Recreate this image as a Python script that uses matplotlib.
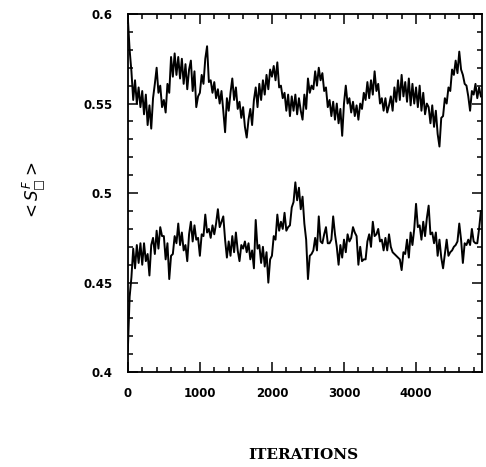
import numpy as np
import matplotlib
matplotlib.use("Agg")
import matplotlib.pyplot as plt
from matplotlib.ticker import MultipleLocator

# iterations sampled every 25 steps
step = 25

# upper trace
upper = [
    0.598, 0.580, 0.568, 0.552, 0.563, 0.550, 0.559, 0.548, 0.557, 0.544,
    0.555, 0.538, 0.549, 0.536, 0.553, 0.561, 0.570, 0.556, 0.560, 0.548,
    0.552, 0.545, 0.561, 0.556, 0.576, 0.565, 0.578, 0.566, 0.576, 0.564,
    0.575, 0.561, 0.572, 0.558, 0.569, 0.574, 0.557, 0.568, 0.548, 0.554,
    0.556, 0.566, 0.561, 0.575, 0.582, 0.562, 0.563, 0.556, 0.562, 0.553,
    0.558, 0.550, 0.557, 0.546, 0.534, 0.553, 0.546, 0.556, 0.564, 0.552,
    0.559, 0.547, 0.551, 0.542, 0.548, 0.537, 0.531, 0.541, 0.547, 0.538,
    0.552, 0.559, 0.548, 0.561, 0.552, 0.563, 0.555, 0.566, 0.558, 0.569,
    0.565, 0.571, 0.563, 0.573, 0.559, 0.560, 0.553, 0.556, 0.546, 0.555,
    0.543, 0.554, 0.546, 0.555, 0.544, 0.553, 0.546, 0.541, 0.555, 0.547,
    0.564, 0.556, 0.560, 0.558, 0.568, 0.560, 0.570, 0.563, 0.567, 0.557,
    0.559, 0.548, 0.552, 0.543, 0.551, 0.541, 0.550, 0.539, 0.547, 0.532,
    0.550, 0.560, 0.550, 0.553, 0.545, 0.551, 0.543, 0.549, 0.541, 0.550,
    0.547, 0.556, 0.552, 0.562, 0.553, 0.563, 0.555, 0.568, 0.557, 0.561,
    0.550, 0.553, 0.546, 0.553, 0.545, 0.549, 0.554, 0.546, 0.559, 0.551,
    0.563, 0.552, 0.566, 0.554, 0.562, 0.551, 0.564, 0.549, 0.561, 0.550,
    0.559, 0.548, 0.560, 0.546, 0.556, 0.544, 0.550, 0.548, 0.539, 0.549,
    0.537, 0.546, 0.533, 0.526, 0.542, 0.543, 0.553, 0.550, 0.559, 0.557,
    0.569, 0.566, 0.574, 0.567, 0.579, 0.569, 0.566, 0.561, 0.560, 0.554,
    0.546, 0.557, 0.555, 0.561, 0.553, 0.559, 0.554,
]

# lower trace
lower = [
    0.412, 0.442, 0.453, 0.469, 0.458, 0.471, 0.461, 0.472, 0.460, 0.472,
    0.462, 0.466, 0.454, 0.471, 0.475, 0.466, 0.479, 0.469, 0.481, 0.476,
    0.476, 0.463, 0.472, 0.452, 0.465, 0.466, 0.476, 0.472, 0.483, 0.471,
    0.478, 0.468, 0.471, 0.462, 0.477, 0.484, 0.473, 0.482, 0.474, 0.475,
    0.465, 0.477, 0.476, 0.488, 0.478, 0.480, 0.475, 0.482, 0.477, 0.483,
    0.491, 0.481, 0.484, 0.487, 0.474, 0.464, 0.473, 0.465, 0.476, 0.467,
    0.478, 0.468, 0.462, 0.471, 0.469, 0.473, 0.467, 0.472, 0.463, 0.468,
    0.458, 0.485, 0.469, 0.471, 0.461, 0.470, 0.459, 0.467, 0.450, 0.463,
    0.465, 0.476, 0.474, 0.488, 0.479, 0.484, 0.480, 0.489, 0.479, 0.481,
    0.482, 0.492, 0.495, 0.506, 0.496, 0.503, 0.491, 0.498, 0.483, 0.474,
    0.452, 0.465, 0.466, 0.468, 0.475, 0.468, 0.487, 0.473, 0.472, 0.477,
    0.481, 0.472, 0.472, 0.474, 0.487, 0.477, 0.470, 0.460, 0.471, 0.464,
    0.474, 0.467, 0.477, 0.473, 0.475, 0.481, 0.478, 0.476, 0.460, 0.470,
    0.462, 0.463, 0.463, 0.473, 0.477, 0.470, 0.484, 0.476, 0.477, 0.480,
    0.473, 0.474, 0.468, 0.475, 0.468, 0.477, 0.470, 0.467, 0.466, 0.465,
    0.464, 0.463, 0.457, 0.467, 0.466, 0.474, 0.464, 0.478, 0.471, 0.480,
    0.494, 0.481, 0.482, 0.474, 0.484, 0.476, 0.486, 0.493, 0.477, 0.478,
    0.472, 0.478, 0.465, 0.474, 0.464, 0.458, 0.466, 0.474, 0.465, 0.467,
    0.468, 0.470, 0.471, 0.473, 0.483, 0.474, 0.461, 0.472, 0.471, 0.474,
    0.471, 0.480, 0.473, 0.472, 0.472, 0.480, 0.490,
]

x_upper = np.arange(len(upper)) * step
x_lower = np.arange(len(lower)) * step

fig = plt.figure(figsize=(4.86, 4.67), dpi=100)
ax = fig.add_axes([0.263, 0.203, 0.729, 0.767])

ax.plot(x_upper, upper, color="black", lw=1.4)
ax.plot(x_lower, lower, color="black", lw=1.4)

ax.set_xlim(0, 4917)
ax.set_ylim(0.4, 0.6)

ax.xaxis.set_major_locator(MultipleLocator(1000))
ax.xaxis.set_minor_locator(MultipleLocator(200))
ax.yaxis.set_minor_locator(MultipleLocator(0.01))
ax.set_yticks([0.4, 0.45, 0.5, 0.55, 0.6])
ax.set_yticklabels(["0.4", "0.45", "0.5", "0.55", "0.6"])

ax.tick_params(which="both", direction="in", top=True, right=True, width=1.1)
ax.tick_params(which="major", length=7)
ax.tick_params(which="minor", length=3.5)
ax.tick_params(axis="x", pad=11)
ax.tick_params(axis="y", pad=11)
for lab in ax.get_xticklabels() + ax.get_yticklabels():
    lab.set_fontsize(8.5)
    lab.set_fontweight("bold")
for sp in ax.spines.values():
    sp.set_linewidth(1.3)

fig.text(0.07, 0.59, "$<S^{F}_{\u25a1}>$", rotation=90,
         fontsize=12, ha="center", va="center")
fig.text(0.625, 0.026, "ITERATIONS", fontsize=11, fontweight="bold",
         family="DejaVu Serif", ha="center", va="center")

fig.savefig("out.png", dpi=100)
